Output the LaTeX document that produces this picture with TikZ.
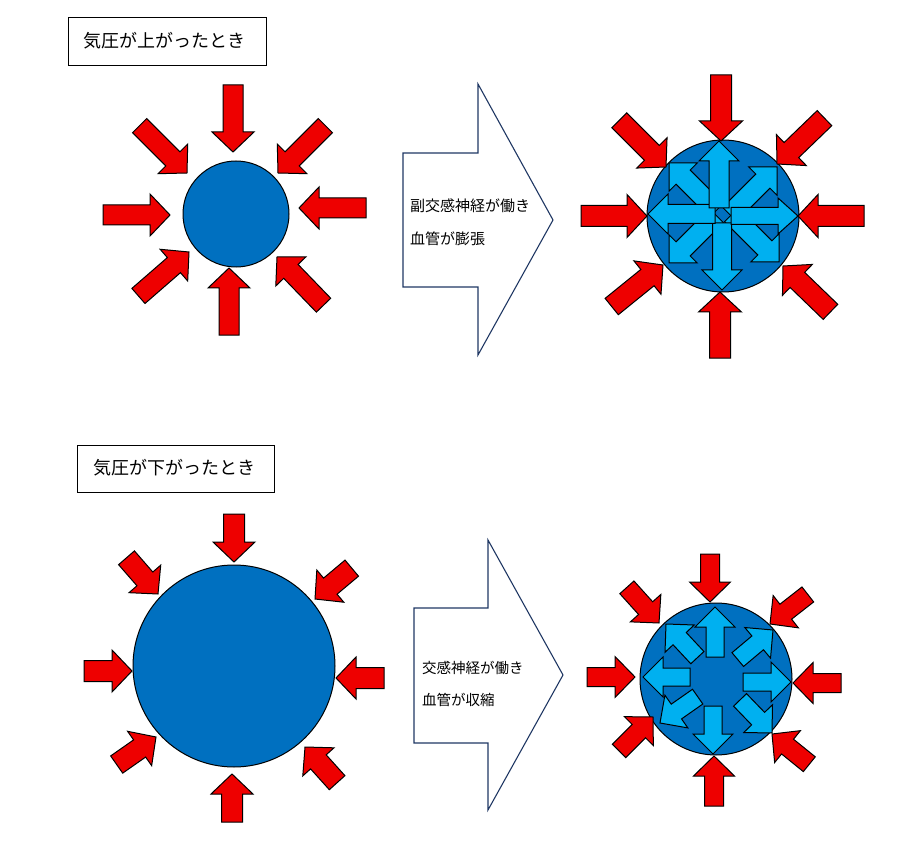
\documentclass[tikz,border=0pt]{standalone}
\usepackage{fontspec}
\newfontfamily\jpfont{Noto Sans CJK JP}
\definecolor{redA}{HTML}{EE0000}
\definecolor{blueC}{HTML}{0070C0}
\definecolor{blueL}{HTML}{00B0F0}
\definecolor{navy}{HTML}{203864}
\tikzset{
  redarrow/.style={fill=redA,draw=black,line width=1pt,line join=miter},
  bluearrow/.style={fill=blueL,draw=black,line width=1pt,line join=miter},
  vessel/.style={circle,fill=blueC,draw=black,line width=1pt,inner sep=0pt},
  bigarrow/.style={fill=white,draw=navy,line width=1.1pt,line join=miter},
  titlebox/.style={draw=black,line width=0.9pt,fill=white},
  titletext/.style={font=\jpfont\fontsize{18}{20}\selectfont,anchor=west,inner sep=0pt},
  bodytext/.style={font=\jpfont\fontsize{15}{17}\selectfont,anchor=west,inner sep=0pt},
  bodytextb/.style={font=\jpfont\fontsize{14.5}{16}\selectfont,anchor=west,inner sep=0pt}
}
% #1 tip x, #2 tip y (pixels, down), #3 direction angle, #4 length, #5 shaft width, #6 head width, #7 head length, #8 style
\newcommand{\barrow}[8]{%
  \begin{scope}[shift={(#1,-#2)},rotate=#3]
    \path[#8] (0,0) -- (-#7,#6/2) -- (-#7,#5/2) -- (-#4,#5/2) -- (-#4,-#5/2) -- (-#7,-#5/2) -- (-#7,-#6/2) -- cycle;
  \end{scope}}
\begin{document}
\begin{tikzpicture}[x=1pt,y=1pt]
\useasboundingbox[fill=white] (0,0) rectangle (919,-845);

% ---------- title boxes ----------
\path[titlebox] (68,-17) rectangle (266,-65);
\node[titletext] (t1) at (83,-41) {気圧が上がったとき};
\path[titlebox] (77,-445) rectangle (274,-492);
\node[titletext] (t2) at (93,-468) {気圧が下がったとき};

% ---------- top-left ----------
\node[vessel,minimum size=106pt] (c1) at (236,-214) {};
\barrow{233}{152}{-90}{67}{20}{42}{20}{redarrow}
\barrow{170}{215}{0}{67}{20}{42}{20}{redarrow}
\barrow{299}{208}{180}{67}{20}{42}{20}{redarrow}
\barrow{229}{268}{90}{67}{20}{42}{20}{redarrow}
\barrow{187}{173}{-45}{67}{20}{42}{20}{redarrow}
\barrow{278}{173}{-135}{67}{20}{42}{20}{redarrow}
\barrow{189}{252}{41}{67}{20}{42}{20}{redarrow}
\barrow{277}{257}{134}{67}{20}{42}{20}{redarrow}

% ---------- top big arrow ----------
\path[bigarrow] (403,-153) -- (478,-153) -- (478,-84) -- (553,-220) -- (478,-355) -- (478,-287) -- (403,-287) -- cycle;
\node[bodytext] (a1) at (410,-206) {副交感神経が働き};
\node[bodytext] (a2) at (410,-239) {血管が膨張};

% ---------- top-right ----------
\node[vessel,minimum size=152pt] (c2) at (723,-216) {};
\barrow{721}{141}{-90}{66}{21}{43}{20}{redarrow}
\barrow{647}{216}{0}{66}{21}{43}{20}{redarrow}
\barrow{798}{216}{180}{66}{21}{43}{20}{redarrow}
\barrow{720}{292}{90}{66}{21}{43}{20}{redarrow}
\barrow{666}{167}{-45}{66}{21}{43}{20}{redarrow}
\barrow{777}{164}{-136}{66}{21}{43}{20}{redarrow}
\barrow{663}{265}{39}{66}{21}{43}{20}{redarrow}
\barrow{783}{266}{136}{66}{21}{43}{20}{redarrow}
% inner dilating arrows
\barrow{669}{163}{135}{67}{20}{40}{20}{bluearrow}
\barrow{777}{167}{45}{67}{20}{40}{20}{bluearrow}
\barrow{669}{263}{-135}{67}{20}{40}{20}{bluearrow}
\barrow{779}{262}{-45}{67}{20}{40}{20}{bluearrow}
\barrow{722}{290}{-90}{67}{19}{40}{20}{bluearrow}
\barrow{648}{214}{180}{67}{19}{40}{20}{bluearrow}
\barrow{798}{216}{0}{67}{17}{36}{20}{bluearrow}
\barrow{719}{141}{90}{67}{20}{40}{20}{bluearrow}

% ---------- bottom-left ----------
\node[vessel,minimum size=202pt] (c3) at (234,-666) {};
\barrow{234}{562}{-90}{48}{21}{42}{20}{redarrow}
\barrow{132}{671}{0}{48}{21}{42}{20}{redarrow}
\barrow{336}{678}{180}{48}{21}{42}{20}{redarrow}
\barrow{232}{774}{90}{48}{21}{42}{20}{redarrow}
\barrow{158}{594}{-49}{48}{21}{42}{20}{redarrow}
\barrow{315}{599}{-140}{48}{21}{42}{20}{redarrow}
\barrow{156}{737}{35}{48}{21}{42}{20}{redarrow}
\barrow{305}{747}{132}{48}{21}{42}{20}{redarrow}

% ---------- bottom big arrow ----------
\path[bigarrow] (414,-608) -- (488,-608) -- (488,-540) -- (563,-675) -- (488,-810) -- (488,-743) -- (414,-743) -- cycle;
\node[bodytextb] (b1) at (422,-668) {交感神経が働き};
\node[bodytextb] (b2) at (422,-700) {血管が収縮};

% ---------- bottom-right ----------
\node[vessel,minimum size=152pt] (c4) at (716,-679) {};
\barrow{710}{602}{-90}{48}{19}{41}{20}{redarrow}
\barrow{635}{677}{0}{48}{19}{41}{20}{redarrow}
\barrow{793}{683}{180}{48}{19}{41}{20}{redarrow}
\barrow{714}{756}{90}{50}{19}{41}{20}{redarrow}
\barrow{659}{623}{-48}{48}{19}{41}{20}{redarrow}
\barrow{770}{624}{-142}{48}{19}{41}{20}{redarrow}
\barrow{653}{717}{45}{48}{19}{41}{20}{redarrow}
\barrow{772}{734}{141}{48}{19}{41}{20}{redarrow}
% inner constricting arrows
\barrow{715}{607}{90}{50}{18}{40}{20}{bluearrow}
\barrow{713}{754}{-90}{48}{18}{40}{20}{bluearrow}
\barrow{643}{677}{180}{47}{18}{40}{20}{bluearrow}
\barrow{791}{682}{0}{48}{18}{40}{20}{bluearrow}
\barrow{666}{624}{133}{46}{18}{40}{20}{bluearrow}
\barrow{773}{630}{40}{46}{18}{40}{20}{bluearrow}
\barrow{660}{723}{-145}{46}{18}{40}{20}{bluearrow}
\barrow{772}{733}{-46}{46}{18}{40}{20}{bluearrow}
\end{tikzpicture}
\end{document}
